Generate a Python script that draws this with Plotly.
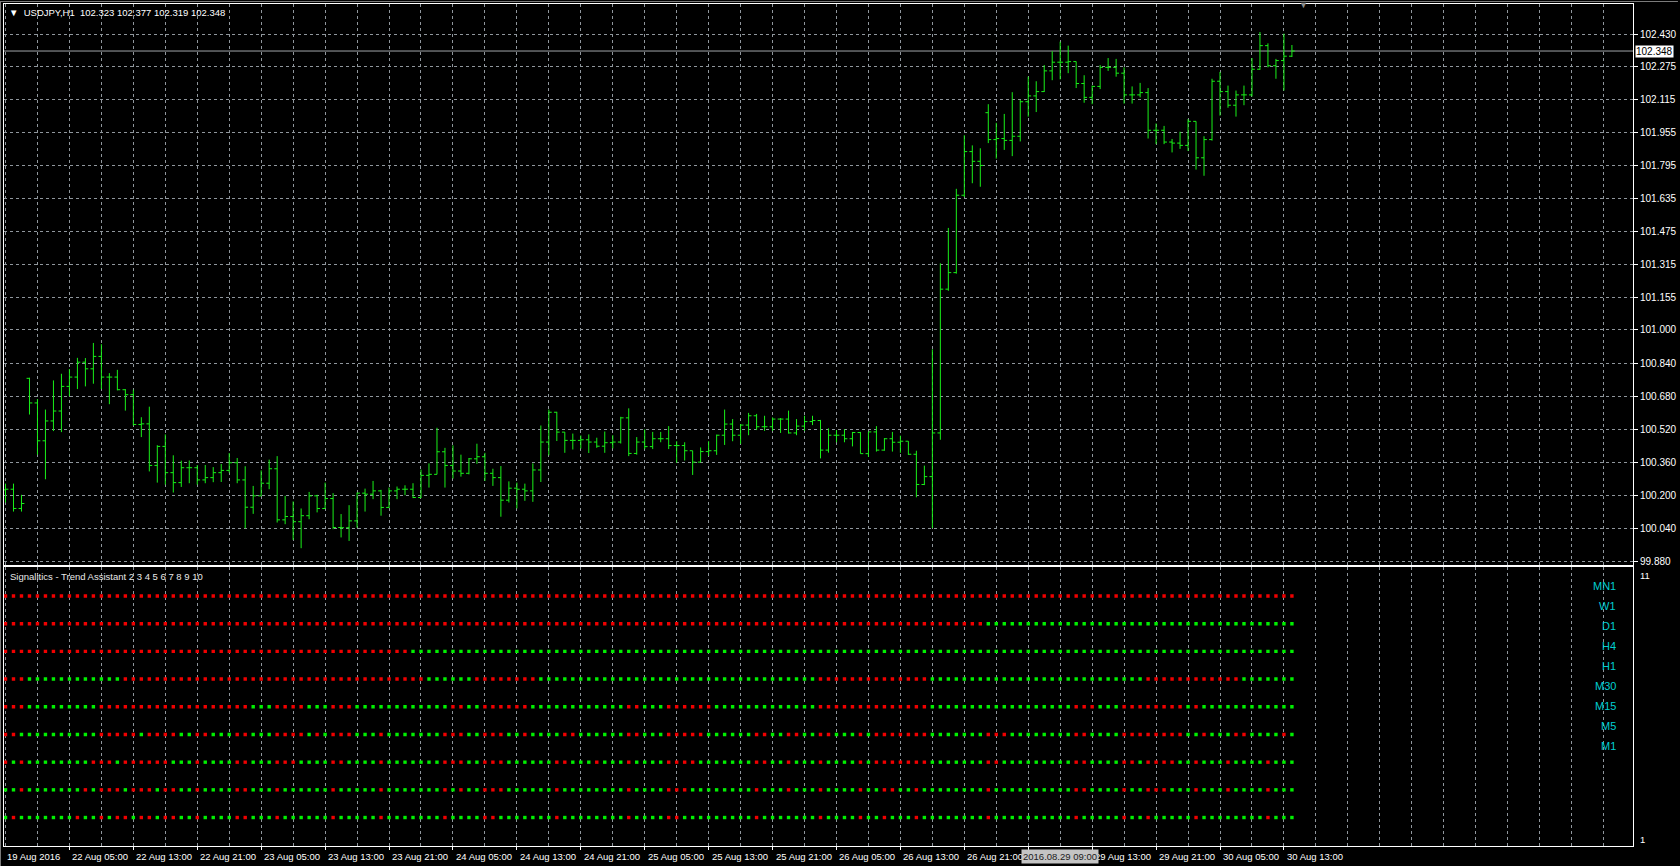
import plotly.graph_objects as go

# ---------------- data (USDJPY H1, bar index 0 = 19 Aug 2016 21:00) ----------------
opens = [100.227, 100.230, 100.137, 100.766, 100.647, 100.464, 100.560, 100.608, 100.727, 100.772,
         100.844, 100.812, 100.872, 100.772, 100.772, 100.711, 100.687, 100.543, 100.546, 100.345,
         100.437, 100.310, 100.262, 100.334, 100.334, 100.275, 100.286, 100.310, 100.321, 100.358,
         100.275, 100.143, 100.198, 100.259, 100.329, 100.082, 100.098, 100.073, 100.102, 100.198,
         100.137, 100.185, 100.045, 100.044, 100.077, 100.211, 100.206, 100.222, 100.142, 100.222,
         100.230, 100.230, 100.190, 100.297, 100.302, 100.411, 100.345, 100.318, 100.307, 100.377,
         100.387, 100.307, 100.286, 100.177, 100.235, 100.230, 100.222, 100.323, 100.458, 100.602,
         100.506, 100.466, 100.466, 100.469, 100.458, 100.438, 100.455, 100.458, 100.575, 100.403,
         100.458, 100.436, 100.474, 100.474, 100.441, 100.441, 100.416, 100.361, 100.412, 100.416,
         100.491, 100.545, 100.491, 100.540, 100.585, 100.532, 100.532, 100.569, 100.569, 100.502,
         100.535, 100.557, 100.562, 100.419, 100.491, 100.491, 100.474, 100.504, 100.402, 100.507,
         100.419, 100.474, 100.457, 100.462, 100.399, 100.253, 100.291, 100.502, 101.197, 101.277,
         101.651, 101.862, 101.815, 102.050, 101.920, 101.925, 101.916, 101.936, 102.103, 102.131,
         102.152, 102.252, 102.294, 102.294, 102.297, 102.191, 102.124, 102.177, 102.269, 102.269,
         102.241, 102.136, 102.136, 102.147, 101.965, 101.965, 101.908, 101.903, 101.892, 102.008,
         101.832, 101.920, 102.202, 102.152, 102.086, 102.136, 102.136, 102.260, 102.374, 102.277,
         102.302, 102.323]
highs = [100.257, 100.257, 100.203, 100.769, 100.666, 100.615, 100.756, 100.788, 100.811, 100.865,
         100.864, 100.937, 100.931, 100.791, 100.807, 100.714, 100.711, 100.578, 100.629, 100.443,
         100.495, 100.394, 100.368, 100.369, 100.347, 100.347, 100.337, 100.352, 100.405, 100.381,
         100.341, 100.246, 100.321, 100.373, 100.390, 100.198, 100.171, 100.137, 100.217, 100.203,
         100.262, 100.211, 100.110, 100.153, 100.214, 100.233, 100.270, 100.227, 100.238, 100.243,
         100.249, 100.259, 100.325, 100.355, 100.527, 100.430, 100.442, 100.397, 100.381, 100.450,
         100.406, 100.329, 100.342, 100.268, 100.262, 100.257, 100.355, 100.538, 100.615, 100.604,
         100.506, 100.499, 100.490, 100.495, 100.479, 100.509, 100.491, 100.580, 100.621, 100.482,
         100.519, 100.507, 100.507, 100.535, 100.462, 100.457, 100.416, 100.432, 100.462, 100.494,
         100.615, 100.569, 100.545, 100.599, 100.594, 100.585, 100.577, 100.574, 100.610, 100.569,
         100.585, 100.585, 100.565, 100.524, 100.516, 100.520, 100.507, 100.507, 100.507, 100.535,
         100.477, 100.507, 100.489, 100.462, 100.416, 100.344, 100.906, 101.322, 101.493, 101.682,
         101.941, 101.892, 101.878, 102.091, 102.001, 102.044, 102.149, 102.111, 102.224, 102.202,
         102.280, 102.347, 102.393, 102.374, 102.297, 102.231, 102.181, 102.280, 102.314, 102.310,
         102.269, 102.177, 102.194, 102.169, 101.998, 101.986, 101.923, 101.958, 102.019, 102.008,
         101.936, 102.214, 102.247, 102.181, 102.157, 102.181, 102.314, 102.440, 102.385, 102.310,
         102.432, 102.377]
lows = [100.166, 100.122, 100.122, 100.591, 100.397, 100.278, 100.511, 100.506, 100.679, 100.714,
        100.727, 100.740, 100.714, 100.641, 100.708, 100.610, 100.538, 100.482, 100.316, 100.262,
        100.252, 100.214, 100.241, 100.259, 100.252, 100.259, 100.264, 100.265, 100.310, 100.259,
        100.041, 100.111, 100.198, 100.230, 100.069, 100.061, 99.985, 99.945, 100.085, 100.118,
        100.134, 100.037, 99.997, 99.980, 100.044, 100.122, 100.182, 100.102, 100.138, 100.182,
        100.201, 100.187, 100.187, 100.238, 100.302, 100.238, 100.281, 100.291, 100.302, 100.353,
        100.270, 100.246, 100.097, 100.166, 100.137, 100.174, 100.169, 100.265, 100.394, 100.463,
        100.406, 100.422, 100.426, 100.405, 100.430, 100.406, 100.427, 100.451, 100.390, 100.397,
        100.424, 100.424, 100.457, 100.424, 100.358, 100.369, 100.299, 100.361, 100.391, 100.396,
        100.444, 100.462, 100.449, 100.491, 100.516, 100.512, 100.512, 100.502, 100.499, 100.491,
        100.512, 100.540, 100.379, 100.407, 100.457, 100.457, 100.437, 100.402, 100.386, 100.412,
        100.416, 100.412, 100.406, 100.396, 100.191, 100.250, 100.042, 100.469, 101.189, 101.272,
        101.642, 101.709, 101.692, 101.903, 101.828, 101.870, 101.840, 101.911, 102.031, 102.053,
        102.150, 102.207, 102.211, 102.241, 102.169, 102.098, 102.091, 102.164, 102.252, 102.224,
        102.094, 102.094, 102.124, 101.925, 101.898, 101.898, 101.858, 101.875, 101.865, 101.775,
        101.745, 101.915, 102.036, 102.074, 102.031, 102.086, 102.128, 102.257, 102.269, 102.214,
        102.157, 102.319]
closes = [100.230, 100.137, 100.161, 100.647, 100.464, 100.560, 100.608, 100.727, 100.772, 100.844,
          100.812, 100.872, 100.772, 100.772, 100.711, 100.687, 100.543, 100.546, 100.345, 100.437,
          100.310, 100.262, 100.334, 100.334, 100.275, 100.286, 100.310, 100.321, 100.358, 100.275,
          100.143, 100.198, 100.259, 100.329, 100.082, 100.098, 100.073, 100.102, 100.198, 100.137,
          100.185, 100.045, 100.044, 100.077, 100.211, 100.206, 100.222, 100.142, 100.222, 100.230,
          100.230, 100.190, 100.297, 100.302, 100.411, 100.345, 100.318, 100.307, 100.377, 100.387,
          100.307, 100.286, 100.177, 100.235, 100.230, 100.222, 100.323, 100.458, 100.602, 100.506,
          100.466, 100.466, 100.469, 100.458, 100.438, 100.455, 100.458, 100.575, 100.403, 100.458,
          100.436, 100.474, 100.474, 100.441, 100.441, 100.416, 100.361, 100.412, 100.416, 100.491,
          100.545, 100.491, 100.540, 100.585, 100.532, 100.532, 100.569, 100.569, 100.502, 100.535,
          100.557, 100.562, 100.419, 100.491, 100.491, 100.474, 100.504, 100.402, 100.507, 100.419,
          100.474, 100.457, 100.462, 100.399, 100.253, 100.291, 100.502, 101.197, 101.277, 101.651,
          101.862, 101.815, 101.795, 101.920, 101.925, 101.916, 101.936, 102.103, 102.131, 102.152,
          102.252, 102.294, 102.294, 102.297, 102.191, 102.124, 102.177, 102.269, 102.269, 102.241,
          102.136, 102.136, 102.147, 101.965, 101.965, 101.908, 101.903, 101.892, 102.008, 101.832,
          101.920, 102.202, 102.152, 102.086, 102.136, 102.136, 102.260, 102.374, 102.277, 102.302,
          102.323, 102.348]

price_tick_labels = ["99.880", "100.040", "100.200", "100.360", "100.520", "100.680", "100.840",
                     "101.000", "101.155", "101.315", "101.475", "101.635", "101.795", "101.955",
                     "102.115", "102.275", "102.430"]
time_labels = ["19 Aug 2016", "22 Aug 05:00", "22 Aug 13:00", "22 Aug 21:00", "23 Aug 05:00",
               "23 Aug 13:00", "23 Aug 21:00", "24 Aug 05:00", "24 Aug 13:00", "24 Aug 21:00",
               "25 Aug 05:00", "25 Aug 13:00", "25 Aug 21:00", "26 Aug 05:00", "26 Aug 13:00",
               "26 Aug 21:00", "29 Aug 13:00", "29 Aug 21:00", "30 Aug 05:00", "30 Aug 13:00"]
time_label_bars = [0, 8, 16, 24, 32, 40, 48, 56, 64, 72, 80, 88, 96, 104, 112, 120, 136, 144, 152, 160]
axis_tick_bars = [8, 16, 24, 32, 40, 48, 56, 64, 72, 80, 88, 96, 104, 112, 120, 128, 136, 144, 152, 160]
cursor_label = "2016.08.29 09:00"
cursor_bar = 132
current_price = 102.348

# Trend Assistant rows: run-length (colour, number of bars)
row_names = ["MN1", "W1", "D1", "H4", "H1", "M30", "M15", "M5", "M1"]
row_levels = [10, 9, 8, 7, 6, 5, 4, 3, 2]
MN1_runs = [("r", 162)]
W1_runs = [("r", 123), ("g", 39)]
D1_runs = [("r", 51), ("g", 111)]
H4_runs = [("r", 3), ("g", 12), ("r", 38), ("g", 6), ("r", 8), ("g", 35), ("r", 14), ("g", 27),
           ("r", 12), ("g", 7)]
H1_runs = [("r", 3), ("g", 9), ("r", 19), ("g", 3), ("r", 4), ("g", 3), ("r", 3), ("g", 12), ("r", 2),
           ("g", 2), ("r", 6), ("g", 12), ("r", 2), ("g", 3), ("r", 6), ("g", 13), ("r", 14), ("g", 18),
           ("r", 3), ("g", 3), ("r", 8), ("g", 1), ("r", 1), ("g", 12)]
M30_runs = [("r", 2), ("g", 10), ("r", 5), ("g", 1), ("r", 4), ("g", 2), ("r", 2), ("g", 3), ("r", 2),
            ("g", 3), ("r", 4), ("g", 1), ("r", 1), ("g", 1), ("r", 3), ("g", 3), ("r", 1), ("g", 7),
            ("r", 3), ("g", 2), ("r", 3), ("g", 2), ("r", 1), ("g", 4), ("r", 2), ("g", 6), ("r", 2),
            ("g", 3), ("r", 5), ("g", 6), ("r", 2), ("g", 2), ("r", 2), ("g", 2), ("r", 2), ("g", 3),
            ("r", 1), ("g", 1), ("r", 7), ("g", 7), ("r", 3), ("g", 8), ("r", 2), ("g", 4), ("r", 8),
            ("g", 2), ("r", 1), ("g", 3), ("r", 2), ("g", 4), ("r", 1), ("g", 1)]
M15_runs = [("r", 1), ("g", 1), ("r", 1), ("g", 8), ("r", 3), ("g", 1), ("r", 6), ("g", 3), ("r", 1),
            ("g", 4), ("r", 2), ("g", 3), ("r", 3), ("g", 4), ("r", 2), ("g", 4), ("r", 1), ("g", 7),
            ("r", 3), ("g", 2), ("r", 3), ("g", 6), ("r", 2), ("g", 3), ("r", 1), ("g", 3), ("r", 1),
            ("g", 4), ("r", 4), ("g", 7), ("r", 2), ("g", 2), ("r", 1), ("g", 3), ("r", 1), ("g", 4),
            ("r", 1), ("g", 1), ("r", 7), ("g", 7), ("r", 2), ("g", 9), ("r", 2), ("g", 4), ("r", 2),
            ("g", 1), ("r", 4), ("g", 2), ("r", 1), ("g", 3), ("r", 1), ("g", 4), ("r", 1), ("g", 3)]
M5_runs = [("g", 2), ("r", 1), ("g", 7), ("r", 1), ("g", 1), ("r", 3), ("g", 1), ("r", 3), ("g", 1),
           ("r", 2), ("g", 2), ("r", 1), ("g", 4), ("r", 2), ("g", 3), ("r", 1), ("g", 6), ("r", 1),
           ("g", 5), ("r", 1), ("g", 7), ("r", 1), ("g", 1), ("r", 1), ("g", 2), ("r", 3), ("g", 6),
           ("r", 1), ("g", 8), ("r", 1), ("g", 4), ("r", 3), ("g", 8), ("r", 1), ("g", 3), ("r", 1),
           ("g", 3), ("r", 1), ("g", 4), ("r", 1), ("g", 2), ("r", 2), ("g", 2), ("r", 1), ("g", 8),
           ("r", 1), ("g", 10), ("r", 2), ("g", 4), ("r", 1), ("g", 2), ("r", 3), ("g", 3), ("r", 1),
           ("g", 3), ("r", 1), ("g", 4), ("r", 1), ("g", 3)]
M1_runs = [("g", 1), ("r", 1), ("g", 7), ("r", 1), ("g", 2), ("r", 1), ("g", 1), ("r", 2), ("g", 1),
           ("r", 2), ("g", 1), ("r", 2), ("g", 2), ("r", 1), ("g", 4), ("r", 2), ("g", 3), ("r", 1),
           ("g", 6), ("r", 1), ("g", 5), ("r", 1), ("g", 7), ("r", 1), ("g", 4), ("r", 2), ("g", 7),
           ("r", 1), ("g", 8), ("r", 1), ("g", 4), ("r", 2), ("g", 9), ("r", 1), ("g", 7), ("r", 1),
           ("g", 4), ("r", 1), ("g", 2), ("r", 1), ("g", 3), ("r", 1), ("g", 8), ("r", 1), ("g", 10),
           ("r", 1), ("g", 5), ("r", 1), ("g", 2), ("r", 1), ("g", 5), ("r", 1), ("g", 8), ("r", 1),
           ("g", 3)]
row_runs = [MN1_runs, W1_runs, D1_runs, H4_runs, H1_runs, M30_runs, M15_runs, M5_runs, M1_runs]

# ---------------- styling / geometry ----------------
W, H = 1680, 866
ML, MR, MT, MB = 4, 45, 3, 20
PW, PH = W - ML - MR, H - MT - MB
BAR_PX = 8.0
FIRST_BAR_PX = 1.5
FONT = "Liberation Sans, Arial, sans-serif"
GRID = "#8f969c"
BAR_GREEN = "#19f019"
RED, GREEN = "#f00000", "#00f000"
CYAN = "#00CED1"
TXT = 9.5

def py(y_px):   # page pixel -> paper y
    return (H - MB - y_px) / PH

def px(x_px):   # page pixel -> paper x
    return (x_px - ML) / PW

n = len(opens)
bars = list(range(n))
x0 = -FIRST_BAR_PX / BAR_PX
x1 = x0 + PW / BAR_PX

fig = go.Figure()
fig.add_trace(go.Ohlc(
    x=bars, open=opens, high=highs, low=lows, close=closes,
    increasing=dict(line=dict(color=BAR_GREEN, width=1)),
    decreasing=dict(line=dict(color=BAR_GREEN, width=1)),
    tickwidth=0.36, hoverinfo="skip", xaxis="x", yaxis="y", showlegend=False))

for runs, lvl in zip(row_runs, row_levels):
    cols = []
    for c, k in runs:
        cols += [RED if c == "r" else GREEN] * k
    assert len(cols) == n, (lvl, len(cols))
    fig.add_trace(go.Scatter(
        x=bars, y=[lvl] * n, mode="markers", xaxis="x2", yaxis="y2",
        marker=dict(symbol="square", size=3.4, color=cols, line=dict(width=0)),
        hoverinfo="skip", showlegend=False))

main_dom = [py(565), 1.0]
ind_dom = [0.0, py(567)]
ppu = (561.3 - 33.1) / (102.430 - 99.880)
y_top = 102.430 + (33.1 - MT) / ppu
y_bot = 99.880 - (565 - 561.3) / ppu
ipu = (817.5 - 595.7) / 8
i_top = 10 + (595.7 - 567) / ipu
i_bot = 2 - (H - MB - 817.5) / ipu

axis_common = dict(showline=True, mirror=True, linecolor="#ffffff", linewidth=1, zeroline=False)
fig.update_layout(
    width=W, height=H, margin=dict(l=ML, r=MR, t=MT, b=MB),
    paper_bgcolor="#000000", plot_bgcolor="#000000",
    font=dict(family=FONT, size=TXT, color="#ffffff"),
    xaxis=dict(domain=[0, 1], anchor="y", range=[x0, x1], tickmode="linear", tick0=0, dtick=4,
               showticklabels=False, ticks="", showgrid=True, gridcolor=GRID, griddash="3px,3px",
               gridwidth=1, rangeslider=dict(visible=False), **axis_common),
    yaxis=dict(domain=main_dom, anchor="x", range=[y_bot, y_top], side="right",
               tickmode="array", tickvals=[float(t) for t in price_tick_labels], ticktext=price_tick_labels,
               ticks="outside", ticklen=4, tickcolor="#ffffff",
               tickfont=dict(family=FONT, size=10, color="#ffffff"),
               showgrid=True, gridcolor=GRID, griddash="3px,3px", gridwidth=1, **axis_common),
    xaxis2=dict(domain=[0, 1], anchor="y2", range=[x0, x1], tickmode="array",
                tickvals=axis_tick_bars, showticklabels=False, ticks="outside", ticklen=3,
                tickcolor="#ffffff", showgrid=True, gridcolor=GRID, griddash="3px,3px", gridwidth=1,
                minor=dict(tick0=0, dtick=4, showgrid=True, gridcolor=GRID, griddash="3px,3px",
                           gridwidth=1, ticks=""),
                **axis_common),
    yaxis2=dict(domain=ind_dom, anchor="x2", range=[i_bot, i_top], side="right", showgrid=False,
                showticklabels=False, ticks="", **axis_common),
)

fig.add_shape(type="line", xref="x domain", yref="y", x0=0, x1=1, y0=current_price, y1=current_price,
              line=dict(color="#a0a4a8", width=1), layer="below")
# thin window frame at the very top / left of the page
fig.add_shape(type="line", xref="paper", yref="paper", x0=px(0), x1=px(W), y0=py(0.5), y1=py(0.5),
              line=dict(color="#7a7a7a", width=1))
fig.add_shape(type="line", xref="paper", yref="paper", x0=px(0.5), x1=px(0.5), y0=py(0), y1=py(H),
              line=dict(color="#7a7a7a", width=1))

ann = []
title = "\u25BC\u00a0 USDJPY,H1 \u00a0{:.3f} {:.3f} {:.3f} {:.3f}".format(opens[-1], highs[-1], lows[-1], closes[-1])
ann.append(dict(text=title, xref="paper", yref="paper", x=px(7), y=py(12), xanchor="left",
                yanchor="middle", showarrow=False, font=dict(family=FONT, size=TXT, color="#ffffff")))
ann.append(dict(text="Signalitics - Trend Assistant 2 3 4 5 6 7 8 9 10", xref="paper", yref="paper",
                x=px(8), y=py(576), xanchor="left", yanchor="middle", showarrow=False,
                font=dict(family=FONT, size=TXT, color="#e8e8e8")))
for i, name in enumerate(row_names):
    ann.append(dict(text=name, xref="paper", yref="paper", x=px(1620), y=py(585.5 + 20 * i),
                    xanchor="right", yanchor="middle", showarrow=False,
                    font=dict(family=FONT, size=11, color=CYAN)))
ann.append(dict(text="11", xref="paper", yref="paper", x=px(1640), y=py(575), xanchor="left",
                yanchor="middle", showarrow=False, font=dict(family=FONT, size=TXT, color="#ffffff")))
ann.append(dict(text="1", xref="paper", yref="paper", x=px(1640), y=py(839), xanchor="left",
                yanchor="middle", showarrow=False, font=dict(family=FONT, size=TXT, color="#ffffff")))
ann.append(dict(text="{:.3f}".format(current_price), xref="paper", yref="y", x=px(1637), y=current_price,
                xanchor="left", yanchor="middle", showarrow=False, bgcolor="#ffffff", borderpad=0,
                font=dict(family=FONT, size=10, color="#000000")))
for lbl, b in zip(time_labels, time_label_bars):
    ann.append(dict(text=lbl, xref="x2", yref="paper", x=b, y=py(857), xanchor="left", yanchor="middle",
                    xshift=(-1 if b == 0 else 1), showarrow=False,
                    font=dict(family=FONT, size=TXT, color="#ffffff")))
ann.append(dict(text=cursor_label, xref="x2", yref="paper", x=cursor_bar, y=py(857), xanchor="center",
                yanchor="middle", showarrow=False, bgcolor="#c4c4c4", borderpad=1,
                font=dict(family=FONT, size=TXT, color="#202020")))
ann.append(dict(text="\u25BC", xref="x", yref="paper", x=162.5, y=py(4), xanchor="center",
                yanchor="middle", showarrow=False, font=dict(family=FONT, size=9, color="#8a8a8a")))
fig.update_layout(annotations=ann)

fig.write_html("out.html", config={"displayModeBar": False},
               post_script="document.body.style.margin='0';document.body.style.overflow='hidden';")
